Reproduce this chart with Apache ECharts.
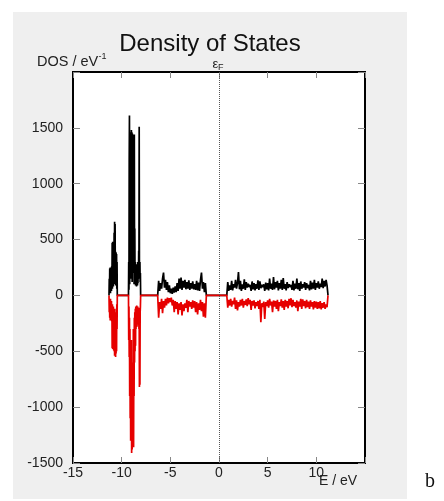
<!DOCTYPE html>
<html>
<head>
<meta charset="utf-8">
<script src="https://cdn.jsdelivr.net/npm/echarts@6/dist/echarts.min.js"></script>
<style>
html,body{margin:0;padding:0;background:#fff;}
#chart{width:444px;height:501px;}
</style>
</head>
<body>
<div id="chart"></div>
<script>
// Energy blocks: start energy (eV) and step (eV)
var blockStarts = [-11.30, -9.30, -6.30, 0.80];
var blockSteps = [0.025, 0.025, 0.1, 0.1];

// Spin-up DOS (positive, black)
var up1 = [0, 150, 30, 240, 60, 250, 20, 200, 70, 230,
           40, 260, 90, 470, 60, 480, 110, 450, 80, 470,
           150, 560, 100, 660, 200, 640, 120, 390, 90, 385,
           150, 370, 60, 300, 0];
var up2 = [0, 300, 50, 1200, 1610, 100, 1400, 200, 1400, 300,
           1460, 150, 1480, 400, 1460, 120, 1450, 300, 1440, 200,
           1430, 500, 1440, 100, 1440, 150, 600, 110, 300, 90,
           250, 100, 200, 80, 280, 120, 220, 90, 300, 110,
           250, 150, 400, 200, 1510, 250, 180, 300, 120, 200,
           0];
var up3 = [0, 130, 40, 110, 60, 150, 205, 70, 140, 50,
           120, 30, 90, 20, 60, 15, 70, 25, 80, 30,
           110, 40, 150, 60, 160, 50, 130, 70, 140, 55,
           120, 60, 135, 50, 110, 60, 125, 55, 100, 50,
           130, 45, 115, 40, 140, 205, 60, 120, 30, 110,
           0];
var up4 = [0,
           120, 40, 90, 50, 130, 45, 100, 70, 140, 60,
           110, 209, 55, 130, 40, 100, 60, 145, 50, 120,
           70, 105, 75, 95, 40, 125, 55, 110, 45, 100,
           60, 135, 50, 125, 65, 95, 75, 100, 40, 115,
           55, 110, 45, 150, 60, 105, 50, 165, 55, 120,
           70, 130, 45, 110, 60, 140, 50, 155, 60, 100,
           45, 120, 65, 100, 75, 95, 50, 130, 45, 105,
           60, 150, 55, 110, 40, 125, 60, 100, 70, 120,
           50, 110, 65, 95, 45, 130, 55, 115, 60, 140,
           50, 110, 70, 125, 60, 105, 75, 150, 65, 130,
           80, 140, 90,
           0];

// Spin-down DOS (negative, red)
var down1 = [0, -150, -40, -200, -70, -225, -30, -210, -90, -190,
             -50, -230, -120, -470, -80, -480, -150, -460, -100, -490,
             -200, -500, -120, -540, -250, -530, -150, -550, -200, -520,
             -120, -500, -80, -300, 0];
var down2 = [0, -400, -100, -550, -200, -900, -300, -1100, -500, -1300,
             -700, -1200, -400, -1410, -900, -1380, -600, -1100, -800, -1100,
             -300, -1360, -500, -900, -200, -600, -150, -500, -120, -450,
             -100, -300, -130, -250, -90, -280, -120, -200, -100, -260,
             -140, -220, -110, -300, -150, -820, -200, -800, -150, -100,
             0];
var down3 = [0, -200, -60, -120, -30, -160, -50, -110, -30, -90,
             -20, -70, -25, -60, -20, -90, -40, -150, -50, -120,
             -60, -170, -70, -130, -60, -180, -80, -140, -70, -110,
             -40, -150, -50, -100, -60, -120, -45, -110, -50, -150,
             -60, -170, -70, -130, -40, -140, -60, -190, -70, -200,
             0];
var down4 = [0,
             -110, -40, -90, -30, -100, -50, -80, -20, -120, -45,
             -135, -60, -100, -40, -90, -30, -110, -50, -85, -35,
             -95, -25, -80, -40, -130, -50, -90, -45, -115, -60,
             -95, -50, -120, -40, -240, -70, -105, -55, -210, -60,
             -95, -45, -110, -30, -90, -55, -150, -45, -100, -50,
             -120, -40, -140, -60, -95, -35, -110, -50, -130, -40,
             -100, -50, -115, -30, -90, -25, -105, -40, -95, -60,
             -110, -45, -140, -55, -100, -30, -120, -35, -95, -50,
             -115, -40, -105, -55, -120, -45, -100, -60, -125, -50,
             -110, -55, -120, -60, -115, -50, -125, -70, -110, -60,
             -120, -80, -105,
             0];

// Tick labels
var xTickLabels = ['-15', '-10', '-5', '0', '5', '10'];
var yTickLabels = ['-1500', '-1000', '-500', '0', '500', '1000', '1500'];

function buildSeries(blocks) {
  var out = [];
  for (var b = 0; b < blocks.length; b++) {
    var arr = blocks[b];
    for (var i = 0; i < arr.length; i++) {
      var e = Math.round((blockStarts[b] + i * blockSteps[b]) * 1000) / 1000;
      out.push([e, arr[i]]);
    }
  }
  return out;
}
var upData = buildSeries([up1, up2, up3, up4]);
var downData = buildSeries([down1, down2, down3, down4]);

var FONT = '"Liberation Sans", Arial, sans-serif';
var chart = echarts.init(document.getElementById('chart'), null, {renderer: 'canvas'});

var xTick = {show: true, inside: true, length: 6, lineStyle: {color: '#888', width: 1}};
var yTick = {show: true, inside: true, length: 7, lineStyle: {color: '#888', width: 1}};
var noLine = {show: false, onZero: false};

chart.setOption({
  animation: false,
  backgroundColor: '#fff',
  graphic: [
    {type: 'rect', z: -100, shape: {x: 13, y: 12, width: 394, height: 487}, style: {fill: '#efefef'}},
    {type: 'text', x: 210, y: 44.6, style: {text: 'Density of States', font: '24px ' + FONT, fill: '#111', align: 'center', verticalAlign: 'middle'}},
    {type: 'text', x: 37, y: 61.7, style: {text: 'DOS / eV', font: '14.5px ' + FONT, fill: '#222', align: 'left', verticalAlign: 'middle'}},
    {type: 'text', x: 98.5, y: 56.7, style: {text: '-1', font: '9px ' + FONT, fill: '#222', align: 'left', verticalAlign: 'middle'}},
    {type: 'text', x: 212.5, y: 64, style: {text: 'ε', font: '13px ' + FONT, fill: '#222', align: 'left', verticalAlign: 'middle'}},
    {type: 'text', x: 218, y: 67.2, style: {text: 'F', font: '9px ' + FONT, fill: '#222', align: 'left', verticalAlign: 'middle'}},
    {type: 'text', x: 319, y: 481, style: {text: 'E / eV', font: '14px ' + FONT, fill: '#222', align: 'left', verticalAlign: 'middle'}},
    {type: 'text', x: 425, y: 482, style: {text: 'b', font: '20px "Liberation Serif", "Times New Roman", serif', fill: '#111', align: 'left', verticalAlign: 'middle'}}
  ],
  grid: {
    left: 73, top: 72, width: 292, height: 391,
    show: true, backgroundColor: '#fff', borderColor: '#000', borderWidth: 2,
    containLabel: false
  },
  xAxis: [
    {
      type: 'value', position: 'bottom', min: -15, max: 15, interval: 5,
      axisLine: noLine, splitLine: {show: false},
      axisTick: xTick,
      axisLabel: {
        margin: 3, color: '#222', fontSize: 14, fontFamily: FONT,
        formatter: function (v) { var s = String(v); return xTickLabels.indexOf(s) >= 0 ? s : ''; }
      }
    },
    {
      type: 'value', position: 'top', min: -15, max: 15, interval: 5,
      axisLine: noLine, splitLine: {show: false},
      axisTick: xTick, axisLabel: {show: false}
    }
  ],
  yAxis: [
    {
      type: 'value', position: 'left', min: -1500, max: 2000, interval: 500,
      axisLine: noLine, splitLine: {show: false},
      axisTick: yTick,
      axisLabel: {
        margin: 10, color: '#222', fontSize: 14, fontFamily: FONT,
        formatter: function (v) { var s = String(v); return yTickLabels.indexOf(s) >= 0 ? s : ''; }
      }
    },
    {
      type: 'value', position: 'right', min: -1500, max: 2000, interval: 500,
      axisLine: noLine, splitLine: {show: false},
      axisTick: yTick, axisLabel: {show: false}
    }
  ],
  series: [
    {
      name: 'up', type: 'line', xAxisIndex: 0, yAxisIndex: 0,
      data: upData, showSymbol: false, symbol: 'none',
      lineStyle: {color: '#000', width: 1.7}, z: 2,
      markLine: {
        silent: true, symbol: ['none', 'none'], label: {show: false},
        lineStyle: {type: 'dotted', color: '#555', width: 1},
        data: [{xAxis: 0}]
      }
    },
    {
      name: 'down', type: 'line', xAxisIndex: 0, yAxisIndex: 0,
      data: downData, showSymbol: false, symbol: 'none',
      lineStyle: {color: '#e60000', width: 1.7}, z: 3
    }
  ]
});
</script>
</body>
</html>
